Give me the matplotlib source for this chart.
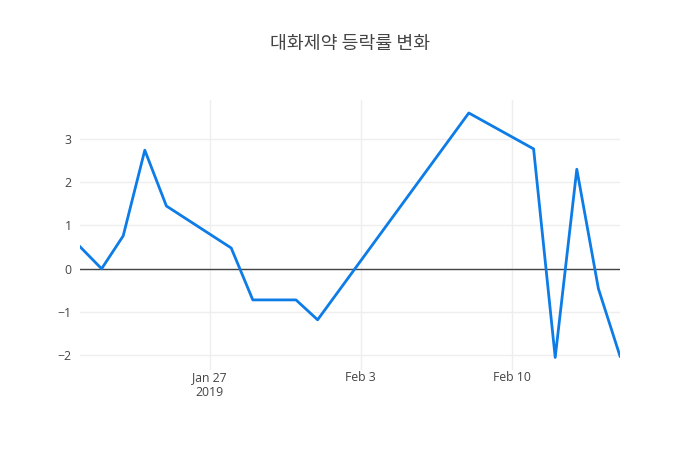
import numpy as np
import pandas as pd
import matplotlib
matplotlib.use("Agg")
import matplotlib.pyplot as plt
import matplotlib.dates as mdates

plt.rcParams["font.family"] = ["Open Sans", "Noto Sans CJK KR", "DejaVu Sans"]

TITLE = "대화제약 등락률 변화"

DATES = [
    "2019-01-21", "2019-01-22", "2019-01-23", "2019-01-24", "2019-01-25",
    "2019-01-28", "2019-01-29", "2019-01-30", "2019-01-31", "2019-02-01",
    "2019-02-08", "2019-02-11", "2019-02-12", "2019-02-13", "2019-02-14",
    "2019-02-15",
]
CHANGE = [
    0.51, 0.0, 0.76, 2.74, 1.45,
    0.48, -0.72, -0.72, -0.72, -1.18,
    3.60, 2.77, -2.05, 2.30, -0.46,
    -2.02,
]

TICK_DATES = ["2019-01-27", "2019-02-03", "2019-02-10"]
TICK_LABELS = ["Jan 27\n2019", "Feb 3", "Feb 10"]
Y_TICKS = [-2, -1, 0, 1, 2, 3]

LINE_COLOR = "#0e7ce6"
TEXT_COLOR = "#444444"
GRID_COLOR = "#eeeeee"


def main():
    dates = pd.to_datetime(DATES)

    fig = plt.figure(figsize=(7, 4.5), dpi=100)
    ax = fig.add_axes([80 / 700, 80 / 450, 540 / 700, 270 / 450])

    ax.plot(dates, CHANGE, color=LINE_COLOR, linewidth=2, zorder=3)
    ax.axhline(0, color=TEXT_COLOR, linewidth=1, zorder=2)

    ax.set_xlim(dates[0], dates[-1])
    ax.set_ylim(-2.34, 3.9)

    ax.set_xticks(pd.to_datetime(TICK_DATES))
    ax.set_xticklabels(TICK_LABELS)
    ax.set_yticks(Y_TICKS)
    ax.set_yticklabels([str(v).replace("-", "\u2212") for v in Y_TICKS])

    ax.grid(True, color=GRID_COLOR, linewidth=1, zorder=0)
    ax.set_axisbelow(True)
    for s in ax.spines.values():
        s.set_visible(False)
    ax.tick_params(length=0, labelsize=8.8, colors=TEXT_COLOR)
    ax.tick_params(axis="x", pad=1)
    ax.tick_params(axis="y", pad=6)
    for lab in ax.get_xticklabels():
        lab.set_linespacing(1.2)

    fig.text(
        0.5, 1 - 44 / 450, TITLE,
        ha="center", va="center", fontsize=13.2, color=TEXT_COLOR,
        family=["Noto Sans CJK KR", "DejaVu Sans"],
    )

    fig.savefig("out.png", dpi=100, facecolor="white")
    plt.close(fig)


if __name__ == "__main__":
    main()
